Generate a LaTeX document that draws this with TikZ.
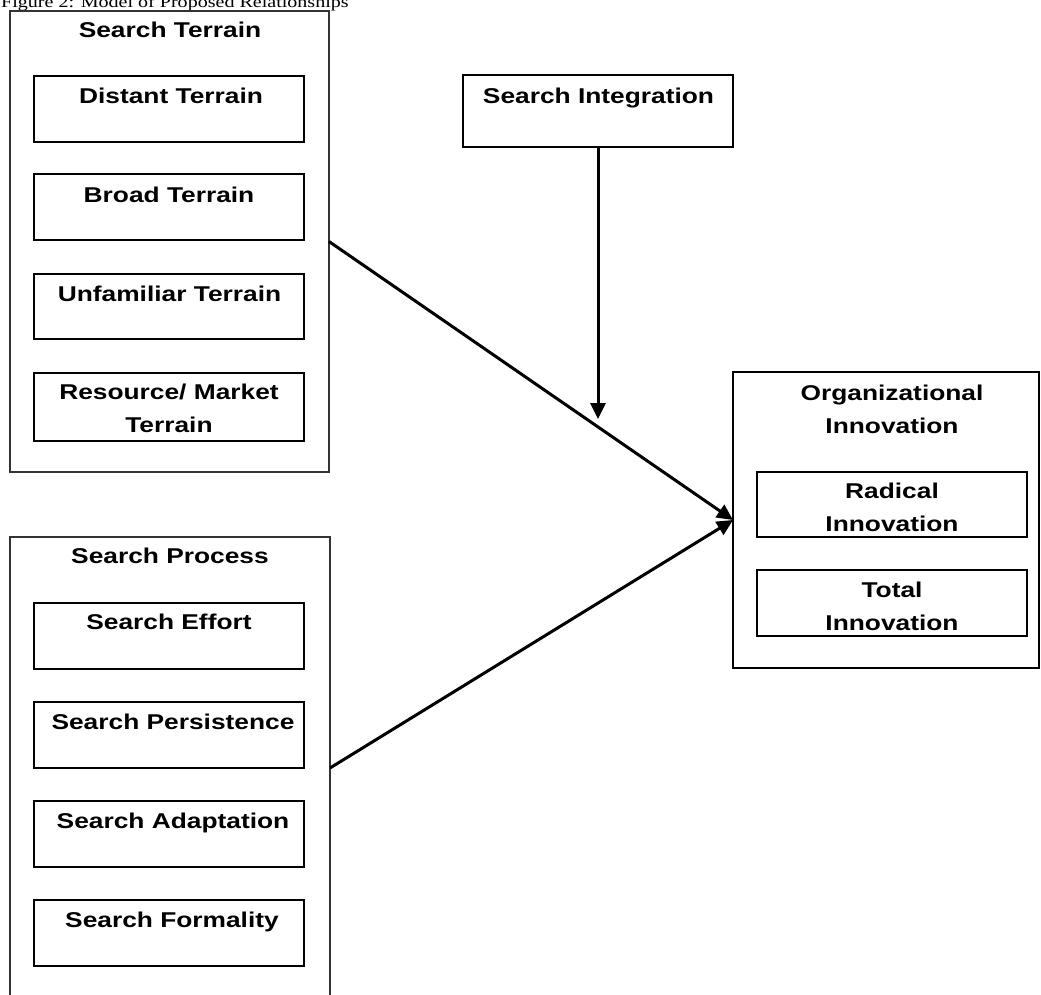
\documentclass[tikz,border=0pt]{standalone}
\usepackage{fontspec}
\usetikzlibrary{arrows.meta}
\newfontfamily\labfont[FakeStretch=1.23]{Liberation Sans Bold}
\newfontfamily\capfont[FakeStretch=1.23]{Liberation Serif}
\tikzset{
  outerbox/.style={draw=black!80, line width=1.1pt, inner sep=0pt, outer sep=0pt},
  innerbox/.style={draw=black, line width=1.5pt, inner sep=0pt, outer sep=0pt, minimum width=270pt},
  txt/.style={font=\labfont\fontsize{21.4}{33.5}\selectfont, inner sep=0pt, anchor=base},
  conn/.style={line width=3pt, -{Triangle[length=16pt,width=15pt]}}
}
\newcommand{\twoline}[2]{\begin{tabular}[t]{@{}c@{}}#1\\#2\end{tabular}}
\begin{document}
\begin{tikzpicture}[x=1pt,y=-1pt]
\useasboundingbox (0,0) rectangle (1041,994);
% caption
\node[font=\capfont\fontsize{16.3}{18}\selectfont, anchor=base west, inner sep=0pt] (cap) at (1,7.5) {Figure 2: Model of Proposed Relationships};
% Search Terrain group
\node[outerbox, minimum width=319pt, minimum height=461pt] (ST) at (169.5,241.5) {};
\node[txt] (STt) at (170,37) {Search Terrain};
\node[innerbox, minimum height=66pt] (DT) at (169,109) {};
\node[txt] (DTt) at (171,103) {Distant Terrain};
\node[innerbox, minimum height=66pt] (BT) at (169,207) {};
\node[txt] (BTt) at (169,202) {Broad Terrain};
\node[innerbox, minimum height=65pt] (UT) at (169,306.5) {};
\node[txt] (UTt) at (169.5,301) {Unfamiliar Terrain};
\node[innerbox, minimum height=68pt] (RT) at (169,407) {};
\node[txt] (RTt) at (169,399) {\twoline{Resource/ Market}{Terrain}};
% Search Process group
\node[outerbox, minimum width=320pt, minimum height=462pt] (SP) at (170,768) {};
\node[txt] (SPt) at (170,563) {Search Process};
\node[innerbox, minimum height=66pt] (SE) at (169,636) {};
\node[txt] (SEt) at (169,629) {Search Effort};
\node[innerbox, minimum height=66pt] (SPe) at (169,735) {};
\node[txt] (SPet) at (173,729) {Search Persistence};
\node[innerbox, minimum height=66pt] (SA) at (169,834) {};
\node[txt] (SAt) at (173,828) {Search Adaptation};
\node[innerbox, minimum height=66pt] (SF) at (169,933) {};
\node[txt] (SFt) at (172,927) {Search Formality};
% Search Integration
\node[innerbox, minimum height=72pt] (SI) at (598,111) {};
\node[txt] (SIt) at (598.5,103) {Search Integration};
% Organizational Innovation
\node[outerbox, draw=black, line width=1.5pt, minimum width=306pt, minimum height=296pt] (OI) at (886,520) {};
\node[txt] (OIt) at (892,400) {\twoline{Organizational}{Innovation}};
\node[innerbox, minimum height=65pt] (RI) at (892,504.5) {};
\node[txt] (RIt) at (892,498) {\twoline{Radical}{Innovation}};
\node[innerbox, minimum height=66pt] (TI) at (892,603) {};
\node[txt] (TIt) at (892,597) {\twoline{Total}{Innovation}};
% connectors
\coordinate (mod) at (598,419);
\draw[conn] (SI.south) -- (mod);
\draw[conn] (ST.east) -- (OI.west);
\draw[conn] (SP.east) -- (OI.west);
\end{tikzpicture}
\end{document}
